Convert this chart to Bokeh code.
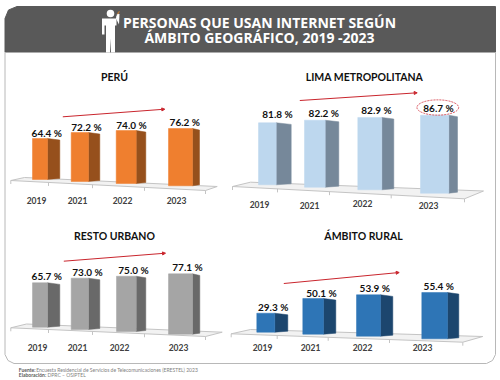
from bokeh.plotting import figure
from bokeh.models import Range1d, ColumnDataSource, Arrow, NormalHead
from bokeh.embed import file_html
from bokeh.resources import INLINE
from bokeh.core.properties import value

years = ["2019", "2021", "2022", "2023"]
peru = [64.4, 72.2, 74.0, 76.2]
lima = [81.8, 82.2, 82.9, 86.7]
resto = [65.7, 73.0, 75.0, 77.1]
rural = [29.3, 50.1, 53.9, 55.4]
panel_titles = ["PERÚ", "LIMA METROPOLITANA", "RESTO URBANO", "ÁMBITO RURAL"]
title_lines = ["PERSONAS QUE USAN INTERNET SEGÚN", "ÁMBITO GEOGRÁFICO, 2019 -2023"]
source_bold = ["Fuente:", "Elaboración:"]
source_text = ["Encuesta Residencial de Servicios de Telecomunicaciones (ERESTEL) 2023", "DPRC – OSIPTEL"]

W, H = 500, 380
FONT = "Lato"
panels = [
    dict(vals=peru, front=(32, 70.7, 115.7, 168), mid=(47, 88, 135.7, 192), side=(59.3, 99.3, 145.3, 199),
         base=(179, 181, 183, 185.3), ppp=(.637, .679, .716, .752),
         colors=("#ef7f2f", "#96501c"),
         lab=((46.3, 132), (86, 126.7), (131, 124), (184.3, 121.3)),
         yr=((36, 200), (77, 200), (122, 200), (176, 200)), ttl=(114, 76),
         floor=((10.3, 180), (205, 190), (216.7, 186), (24, 177)), ticks=(10.3, 48, 92, 144, 205),
         arrow=(62.3, 116.3, 164.3, 108.7)),
    dict(vals=lima, front=(258, 304, 357.3, 420), mid=(275.7, 324.7, 381.3, 448.3), side=(290.7, 338.3, 393.3, 457),
         base=(184.3, 186.7, 189.3, 192.7), ppp=(.758, .815, .873, .9),
         colors=("#bdd7ee", "#76889a"),
         lab=((277, 113.3), (323.3, 112), (376, 109.3), (438, 107)),
         yr=((259, 204), (309, 204.5), (362, 203), (428, 204.5)), ttl=(364, 76),
         floor=((232, 186), (464, 198.3), (483, 190.5), (250, 181.7)), ticks=(232, 277, 329, 390.7, 464),
         arrow=(299.3, 100, 416.7, 92.3)),
    dict(vals=resto, front=(32, 70.7, 116, 168), mid=(47, 88, 135.7, 192), side=(59.3, 99.3, 145.3, 199.3),
         base=(326.7, 329, 331, 333.7), ppp=(.676, .703, .737, .783),
         colors=("#a5a5a5", "#696969"),
         lab=((46.3, 275.7), (87, 271), (133, 269.3), (187, 266.3)),
         yr=((37, 347), (77, 347), (119, 347), (178, 347)), ttl=(114, 235),
         floor=((10.3, 327.3), (205, 336), (221.7, 331.7), (26, 323.5)), ticks=(10.3, 48, 92, 144, 205),
         arrow=(63.3, 260.7, 165, 252.7)),
    dict(vals=rural, front=(256.3, 302.3, 356, 421.3), mid=(274.3, 323, 380, 447), side=(287.3, 335.3, 392.3, 458.3),
         base=(331.7, 333.7, 335.7, 338.3), ppp=(.648, .713, .768, .836),
         colors=("#2e75b6", "#1c466e"),
         lab=((272.7, 306.7), (321, 292), (374.3, 287.7), (438.3, 285.7)),
         yr=((262, 347), (310, 347), (362, 347), (422, 347)), ttl=(363, 235),
         floor=((230.7, 333.3), (462.3, 341.7), (482.3, 336), (250, 329)), ticks=(230.7, 276.7, 327.7, 389, 462.3),
         arrow=(283.3, 283, 398.7, 272)),
]

p = figure(width=W, height=H, x_range=Range1d(0, W), y_range=Range1d(H, 0), toolbar_location=None,
           output_backend="svg", min_border=0, outline_line_color=None, background_fill_color="white",
           border_fill_color="white")
p.axis.visible = False
p.grid.visible = False
p.margin = 0

# card + header
L, R, T, B, HB = 4.5, 495, 6, 363, 51.5
p.patch([L + 12, R, R, L, L, L + 3.5], [T, T, HB, HB, T + 12, T + 3.5], fill_color="#595959", line_color="#595959")
p.multi_line([[L, L, L + 3, L + 9, R - 9, R - 3, R, R]], [[HB, B - 9, B - 3, B, B, B - 3, B - 9, HB]],
             line_color="#b8b8b8", line_width=1)

# person icon
p.circle(x=[110], y=[13], radius=3.8, fill_color="white", line_color=None)
p.patch([101.5, 118.5, 116, 116, 114.5, 114.5, 110.5, 110, 109.5, 105.5, 105.5, 104, 104, 101.5],
        [18, 18, 15, 25, 25, 52, 52, 38, 52, 52, 25, 25, 34, 34], fill_color="white", line_color=None)
p.patch([115.5, 116.5, 117.5, 119, 118.5], [18, 14, 13, 13.5, 24], fill_color="white", line_color=None)
p.patch([116.5, 118.5, 119.5, 117.5], [13, 10.5, 11, 14], fill_color="#b5763a", line_color=None)

for t, y in zip(title_lines, (22, 37.3)):
    p.text(x=[259], y=[y], text=[t], text_color="white", text_font=value("Open Sans"), text_font_style="bold",
           text_font_size="14px", text_align="center", text_baseline="middle")

for i, pn in enumerate(panels):
    rx, ry = f"px{i}", f"py{i}"
    K = 0.75  # px per percent point at the panel's scale
    y0 = pn["base"][0]
    p.extra_x_ranges[rx] = Range1d(0, W)
    p.extra_y_ranges[ry] = Range1d((y0 - H) / K, y0 / K)
    fl = pn["floor"]
    p.patch([q[0] for q in fl], [q[1] for q in fl], fill_color="#f2f2f2", line_color="#c4c4c4", line_width=1)
    (ax, ay), (bx, by) = fl[0], fl[1]
    tx = list(pn["ticks"])
    ty = [ay + (x - ax) * (by - ay) / (bx - ax) for x in tx]
    p.segment(x0=tx, y0=ty, x1=tx, y1=[v + 3.5 for v in ty], line_color="#c4c4c4", line_width=1)

    # bars: bottom and height go through the panel's percentage scale, shrunk by perspective
    bot = [(y0 - b) / K for b in pn["base"]]
    top = [b + v * f / K for b, v, f in zip(bot, pn["vals"], pn["ppp"])]
    src = ColumnDataSource(dict(year=years, value=pn["vals"], left=pn["front"], right=pn["mid"], bottom=bot, top=top))
    c1, c2 = pn["colors"]
    sx = [[m, s, s, m] for m, s in zip(pn["mid"], pn["side"])]
    sy = [[t, t - 1.6 / K, b + 1 / K, b] for t, b in zip(top, bot)]
    p.patches(sx, sy, fill_color=c2, line_color=c2, line_width=0.5, x_range_name=rx, y_range_name=ry)
    p.quad(left="left", right="right", bottom="bottom", top="top", source=src, fill_color=c1, line_color=c1,
           line_width=0.5, x_range_name=rx, y_range_name=ry)

    ly = [(y0 - q[1]) / K for q in pn["lab"]]
    p.text(x=[q[0] for q in pn["lab"]], y=ly, text=[f"{v:.1f} %" for v in pn["vals"]], text_color="#111111",
           text_font=value(FONT), text_font_style="bold", text_font_size="10px", text_align="center",
           text_baseline="middle", x_range_name=rx, y_range_name=ry)
    yy = [(y0 - q[1]) / K for q in pn["yr"]]
    p.text(x=[q[0] for q in pn["yr"]], y=yy, text=years, text_color="#404040", text_font=value(FONT),
           text_font_style="bold", text_font_size="8.5px", text_align="center", text_baseline="middle",
           x_range_name=rx, y_range_name=ry)
    p.text(x=[pn["ttl"][0]], y=[pn["ttl"][1]], text=[panel_titles[i]], text_color="#111111", text_font=value(FONT),
           text_font_style="bold", text_font_size="10.5px", text_align="center", text_baseline="middle")
    x0, y_0, x1, y1 = pn["arrow"]
    p.add_layout(Arrow(x_start=x0, y_start=y_0, x_end=x1, y_end=y1, line_color="#c9252d", line_width=1,
                       end=NormalHead(size=3, fill_color="#c9252d", line_color="#c9252d")))

# highlight ellipse on the Lima 2023 value
p.ellipse(x=[437.3], y=[107], width=41.7, height=15.3, fill_color=None, line_color="#d9505a", line_width=1,
          line_dash="2 1")

# source note
for yy, a, b, off in zip((369.3, 374.7), source_bold, source_text, (17.4, 28.7)):
    p.text(x=[18.3], y=[yy], text=[a], text_font=value(FONT), text_font_style="bold", text_font_size="5px",
           text_color="#595959", text_baseline="middle")
    p.text(x=[18.3 + off], y=[yy], text=[b], text_font=value(FONT), text_font_size="5px", text_color="#7f7f7f",
           text_baseline="middle")

open("out.html", "w").write(file_html(p, INLINE))
